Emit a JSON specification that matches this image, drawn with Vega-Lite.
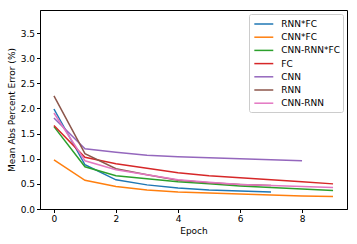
{
  "$schema": "https://vega.github.io/schema/vega-lite/v6.json",
  "width": 307,
  "height": 199,
  "autosize": "none",
  "padding": {"left": 40, "top": 10, "right": 10, "bottom": 35},
  "config": {
    "font": "DejaVu Sans",
    "view": {"stroke": "black", "strokeWidth": 1},
    "axis": {
      "domainColor": "black", "tickColor": "black", "labelColor": "black", "titleColor": "black",
      "labelFontSize": 9, "titleFontSize": 9, "titleFontWeight": "normal", "tickSize": 3.5, "grid": false,
      "labelPadding": 2
    }
  },
  "data": {"values": [
    {"model": "RNN*FC", "epoch": 0, "mape": 1.99},
    {"model": "RNN*FC", "epoch": 1, "mape": 0.88},
    {"model": "RNN*FC", "epoch": 2, "mape": 0.58},
    {"model": "RNN*FC", "epoch": 3, "mape": 0.48},
    {"model": "RNN*FC", "epoch": 4, "mape": 0.42},
    {"model": "RNN*FC", "epoch": 5, "mape": 0.38},
    {"model": "RNN*FC", "epoch": 6, "mape": 0.36},
    {"model": "RNN*FC", "epoch": 7, "mape": 0.34},
    {"model": "CNN*FC", "epoch": 0, "mape": 0.98},
    {"model": "CNN*FC", "epoch": 1, "mape": 0.57},
    {"model": "CNN*FC", "epoch": 2, "mape": 0.45},
    {"model": "CNN*FC", "epoch": 3, "mape": 0.38},
    {"model": "CNN*FC", "epoch": 4, "mape": 0.34},
    {"model": "CNN*FC", "epoch": 5, "mape": 0.32},
    {"model": "CNN*FC", "epoch": 6, "mape": 0.30},
    {"model": "CNN*FC", "epoch": 7, "mape": 0.28},
    {"model": "CNN*FC", "epoch": 8, "mape": 0.26},
    {"model": "CNN*FC", "epoch": 9, "mape": 0.25},
    {"model": "CNN-RNN*FC", "epoch": 0, "mape": 1.64},
    {"model": "CNN-RNN*FC", "epoch": 1, "mape": 0.84},
    {"model": "CNN-RNN*FC", "epoch": 2, "mape": 0.66},
    {"model": "CNN-RNN*FC", "epoch": 3, "mape": 0.60},
    {"model": "CNN-RNN*FC", "epoch": 4, "mape": 0.54},
    {"model": "CNN-RNN*FC", "epoch": 5, "mape": 0.50},
    {"model": "CNN-RNN*FC", "epoch": 6, "mape": 0.46},
    {"model": "CNN-RNN*FC", "epoch": 7, "mape": 0.43},
    {"model": "CNN-RNN*FC", "epoch": 8, "mape": 0.40},
    {"model": "CNN-RNN*FC", "epoch": 9, "mape": 0.37},
    {"model": "FC", "epoch": 0, "mape": 1.66},
    {"model": "FC", "epoch": 1, "mape": 1.03},
    {"model": "FC", "epoch": 2, "mape": 0.90},
    {"model": "FC", "epoch": 3, "mape": 0.81},
    {"model": "FC", "epoch": 4, "mape": 0.72},
    {"model": "FC", "epoch": 5, "mape": 0.66},
    {"model": "FC", "epoch": 6, "mape": 0.62},
    {"model": "FC", "epoch": 7, "mape": 0.58},
    {"model": "FC", "epoch": 8, "mape": 0.54},
    {"model": "FC", "epoch": 9, "mape": 0.50},
    {"model": "CNN", "epoch": 0, "mape": 1.81},
    {"model": "CNN", "epoch": 1, "mape": 1.20},
    {"model": "CNN", "epoch": 2, "mape": 1.13},
    {"model": "CNN", "epoch": 3, "mape": 1.07},
    {"model": "CNN", "epoch": 4, "mape": 1.04},
    {"model": "CNN", "epoch": 5, "mape": 1.02},
    {"model": "CNN", "epoch": 6, "mape": 1.00},
    {"model": "CNN", "epoch": 7, "mape": 0.98},
    {"model": "CNN", "epoch": 8, "mape": 0.96},
    {"model": "RNN", "epoch": 0, "mape": 2.25},
    {"model": "RNN", "epoch": 1, "mape": 1.10},
    {"model": "RNN", "epoch": 2, "mape": 0.80},
    {"model": "RNN", "epoch": 3, "mape": 0.68},
    {"model": "RNN", "epoch": 4, "mape": 0.57},
    {"model": "RNN", "epoch": 5, "mape": 0.52},
    {"model": "RNN", "epoch": 6, "mape": 0.49},
    {"model": "RNN", "epoch": 7, "mape": 0.47},
    {"model": "CNN-RNN", "epoch": 0, "mape": 1.91},
    {"model": "CNN-RNN", "epoch": 1, "mape": 0.96},
    {"model": "CNN-RNN", "epoch": 2, "mape": 0.78},
    {"model": "CNN-RNN", "epoch": 3, "mape": 0.68},
    {"model": "CNN-RNN", "epoch": 4, "mape": 0.58},
    {"model": "CNN-RNN", "epoch": 5, "mape": 0.53},
    {"model": "CNN-RNN", "epoch": 6, "mape": 0.49},
    {"model": "CNN-RNN", "epoch": 7, "mape": 0.47},
    {"model": "CNN-RNN", "epoch": 8, "mape": 0.45},
    {"model": "CNN-RNN", "epoch": 9, "mape": 0.43}
  ]},
  "mark": {"type": "line", "strokeWidth": 1.5, "clip": true},
  "encoding": {
    "x": {
      "field": "epoch", "type": "quantitative", "title": "Epoch",
      "scale": {"domain": [-0.45, 9.45], "nice": false, "zero": false},
      "axis": {"values": [0, 2, 4, 6, 8], "format": "d", "titlePadding": 3}
    },
    "y": {
      "field": "mape", "type": "quantitative", "title": "Mean Abs Percent Error (%)",
      "scale": {"domain": [0, 3.96], "nice": false},
      "axis": {"values": [0, 0.5, 1, 1.5, 2, 2.5, 3, 3.5], "format": ".1f", "titlePadding": 4}
    },
    "color": {
      "field": "model", "type": "nominal",
      "scale": {
        "domain": ["RNN*FC", "CNN*FC", "CNN-RNN*FC", "FC", "CNN", "RNN", "CNN-RNN"],
        "range": ["#1f77b4", "#ff7f0e", "#2ca02c", "#d62728", "#9467bd", "#8c564b", "#e377c2"]
      },
      "legend": {
        "title": null, "orient": "none", "legendX": 209, "legendY": 4,
        "symbolType": "M-0.78,0H2.38", "symbolSize": 144, "symbolStrokeWidth": 1.5,
        "labelFontSize": 9, "labelColor": "black", "rowPadding": 1.2,
        "padding": 3, "strokeColor": "#cccccc", "fillColor": "white", "cornerRadius": 2,
        "labelOffset": 15.3
      }
    }
  }
}
